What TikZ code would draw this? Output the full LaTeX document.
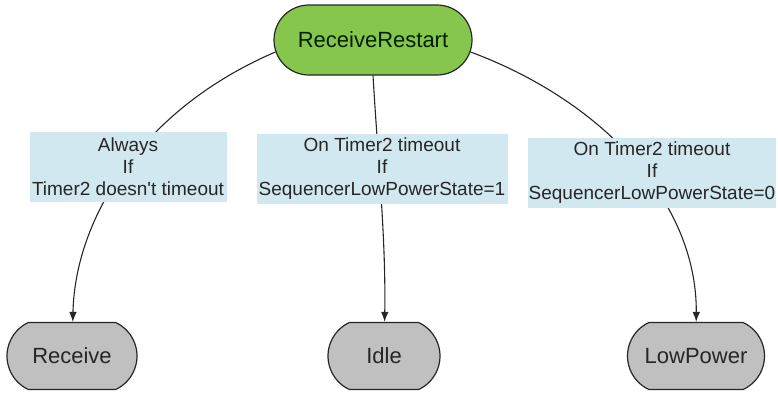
\documentclass[tikz,border=0pt]{standalone}
\usepackage{fontspec}
\setmainfont{Liberation Sans}
\usetikzlibrary{positioning, shapes.misc, arrows.meta}

\definecolor{startgreen}{RGB}{134,198,76}
\definecolor{stategray}{RGB}{192,192,192}
\definecolor{condblue}{RGB}{210,232,240}

\begin{document}
\begin{tikzpicture}[x=1pt, y=-1pt, >={Latex[length=10pt,width=7.5pt]},
  every state/.style={draw=black!85, line width=1.2pt, rounded rectangle,
    inner xsep=0pt, font=\fontsize{22}{26}\selectfont},
  start/.style={every state, fill=startgreen, text=black!80!green!60!black,
    rounded rectangle arc length=180},
  state/.style={every state, fill=stategray, text=black!85,
    rounded rectangle arc length=130},
  cond/.style={fill=condblue, align=center, inner sep=0pt, text=black!85,
    font=\fontsize{19}{22}\selectfont},
  trans/.style={->, line width=1.1pt, black!85}]
\useasboundingbox (0,0) rectangle (778,392);
\node [start, minimum width=198pt, minimum height=70pt] (restart) at (373,40) {ReceiveRestart};
\foreach \n/\x/\w in {Receive/72/130, Idle/384/112, LowPower/696/137}
  \node [state, minimum width=\w pt, minimum height=67pt] (state-\n) at (\x,356) {\n};
% transitions first, the condition boxes cover them
\draw [trans] (restart.187) .. controls (140,110) and (75,220) .. (state-Receive);
\draw [trans] (restart.south) .. controls (378,160) and (386,240) .. (state-Idle);
\draw [trans] (restart.-7) .. controls (600,100) and (697,200) .. (state-LowPower);
\foreach \t/\x/\y/\w [count=\i] in {
    {Always\\If\\Timer2 doesn\textquotesingle t timeout}/128/167/197,
    {On Timer2 timeout\\If\\SequencerLowPowerState=1}/382/169/251,
    {On Timer2 timeout\\If\\SequencerLowPowerState=0}/652/173/248}
  \node [cond, minimum width=\w pt, minimum height=70pt] (cond-\i) at (\x,\y) {\t};
\end{tikzpicture}
\end{document}
